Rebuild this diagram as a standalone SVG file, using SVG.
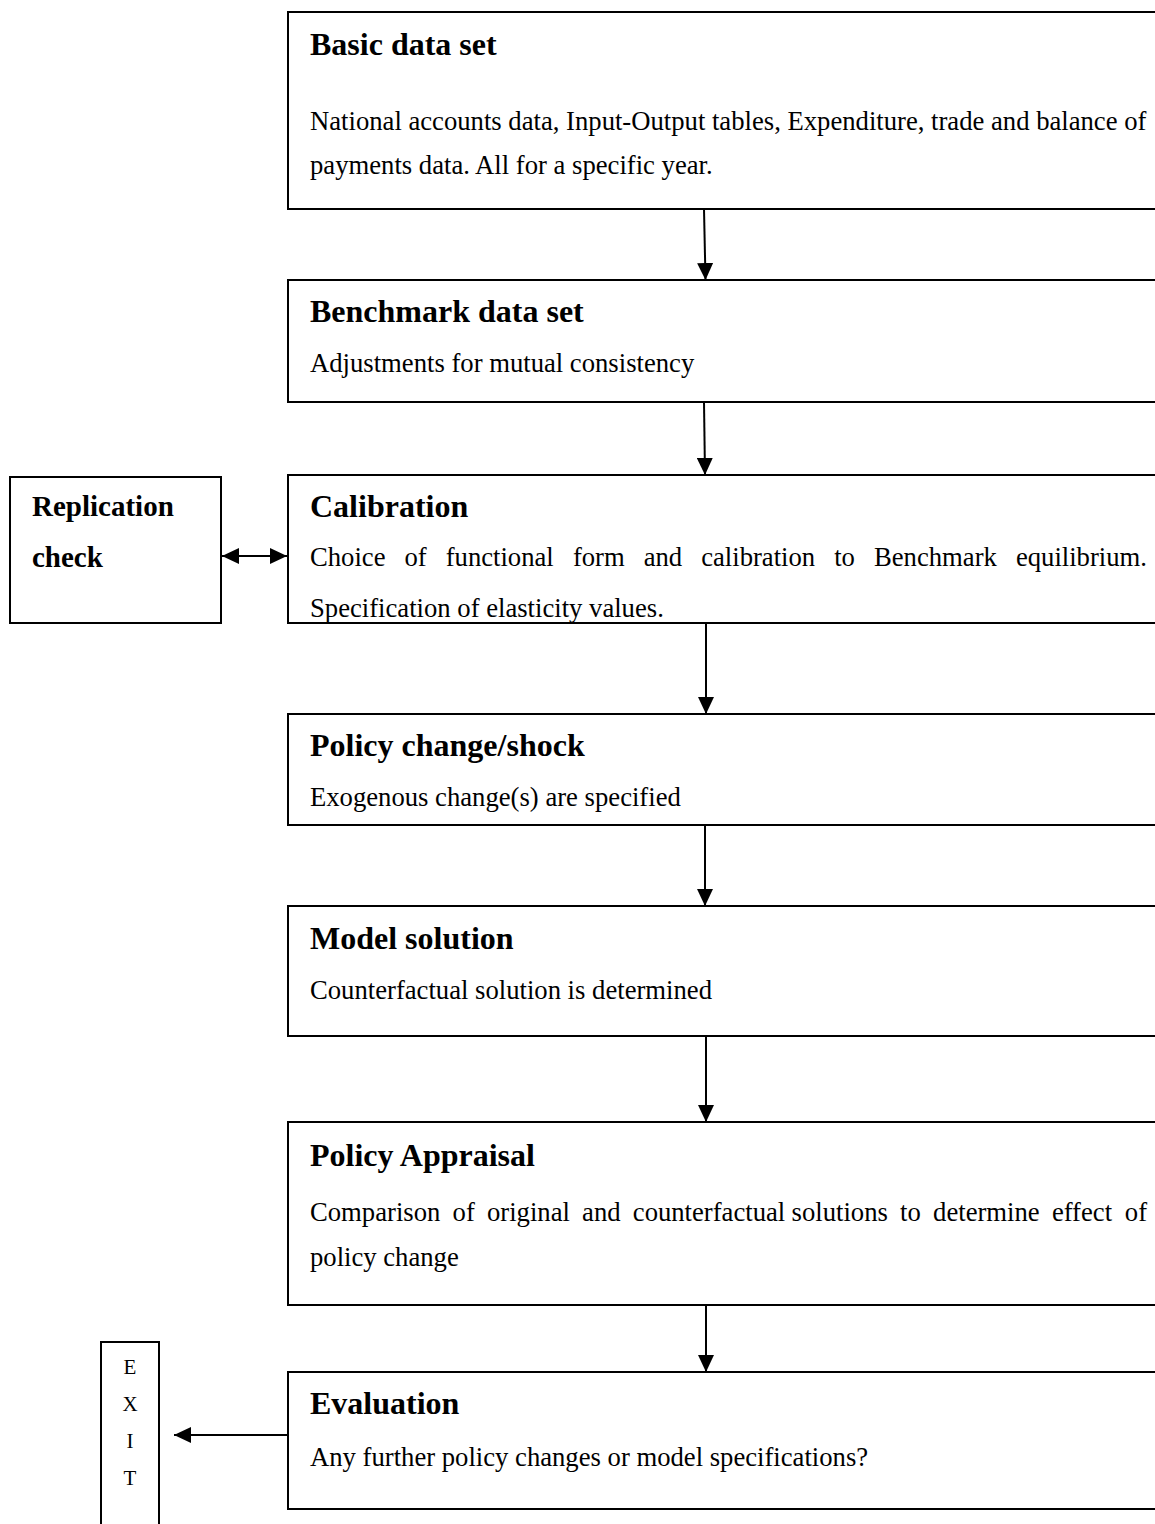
<svg xmlns="http://www.w3.org/2000/svg" width="1155" height="1524" viewBox="0 0 1155 1524">
  <style>
    .box { fill: #ffffff; stroke: #000000; stroke-width: 2; }
    .head { font-family: "Liberation Serif", "Times New Roman", serif; font-weight: bold; font-size: 32px; fill: #000000; }
    .body { font-family: "Liberation Serif", "Times New Roman", serif; font-size: 26.67px; fill: #000000; }
    .side { font-family: "Liberation Serif", "Times New Roman", serif; font-weight: bold; font-size: 29px; fill: #000000; }
    .exit { font-family: "Liberation Serif", "Times New Roman", serif; font-size: 21px; fill: #000000; }
    .link { stroke: #000000; stroke-width: 2; fill: none; }
  </style>
  <defs>
    <marker id="arrow" markerUnits="userSpaceOnUse" markerWidth="18" markerHeight="16" refX="17" refY="8" orient="auto-start-reverse">
      <path d="M0,0 L17,8 L0,16 Z" fill="#000000"/>
    </marker>
  </defs>
  <rect width="1155" height="1524" fill="#ffffff"/>

  <!-- process boxes (right side runs off the page) -->
  <g id="basic-data-set">
    <rect class="box" x="288" y="12" width="880" height="197"/>
    <text class="head" x="310" y="55">Basic data set</text>
    <text class="body" x="310" y="130">National accounts data, Input-Output tables, Expenditure, trade and balance of</text>
    <text class="body" x="310" y="174">payments data. All for a specific year.</text>
  </g>

  <g id="benchmark-data-set">
    <rect class="box" x="288" y="280" width="880" height="122"/>
    <text class="head" x="310" y="322">Benchmark data set</text>
    <text class="body" x="310" y="372">Adjustments for mutual consistency</text>
  </g>

  <g id="calibration">
    <rect class="box" x="288" y="475" width="880" height="148"/>
    <text class="head" x="310" y="517">Calibration</text>
    <text class="body" y="566"><tspan x="310">Choice</tspan><tspan x="404.5">of</tspan><tspan x="445.7">functional</tspan><tspan x="572.9">form</tspan><tspan x="643.7">and</tspan><tspan x="701.2">calibration</tspan><tspan x="834.2">to</tspan><tspan x="874">Benchmark</tspan><tspan x="1015.9">equilibrium.</tspan></text>
    <text class="body" x="310" y="617">Specification of elasticity values.</text>
  </g>

  <g id="replication-check">
    <rect class="box" x="10" y="477" width="211" height="146"/>
    <text class="side" x="32" y="516">Replication</text>
    <text class="side" x="32" y="567">check</text>
  </g>

  <g id="policy-change">
    <rect class="box" x="288" y="714" width="880" height="111"/>
    <text class="head" x="310" y="756">Policy change/shock</text>
    <text class="body" x="310" y="806">Exogenous change(s) are specified</text>
  </g>

  <g id="model-solution">
    <rect class="box" x="288" y="906" width="880" height="130"/>
    <text class="head" x="310" y="949">Model solution</text>
    <text class="body" x="310" y="999">Counterfactual solution is determined</text>
  </g>

  <g id="policy-appraisal">
    <rect class="box" x="288" y="1122" width="880" height="183"/>
    <text class="head" x="310" y="1166">Policy Appraisal</text>
    <text class="body" y="1221"><tspan x="310">Comparison</tspan><tspan x="452.6">of</tspan><tspan x="487">original</tspan><tspan x="582.1">and</tspan><tspan x="632.8">counterfactual</tspan><tspan x="791.6">solutions</tspan><tspan x="900.1">to</tspan><tspan x="933.1">determine</tspan><tspan x="1051.9">effect</tspan><tspan x="1124.8">of</tspan></text>
    <text class="body" x="310" y="1266">policy change</text>
  </g>

  <g id="evaluation">
    <rect class="box" x="288" y="1372" width="880" height="137"/>
    <text class="head" x="310" y="1414">Evaluation</text>
    <text class="body" x="310" y="1466">Any further policy changes or model specifications?</text>
  </g>

  <g id="exit">
    <rect class="box" x="101" y="1342" width="58" height="200"/>
    <text class="exit" x="130" y="1374" text-anchor="middle">E</text>
    <text class="exit" x="130" y="1411" text-anchor="middle">X</text>
    <text class="exit" x="130" y="1448" text-anchor="middle">I</text>
    <text class="exit" x="130" y="1485" text-anchor="middle">T</text>
  </g>

  <!-- connectors -->
  <g id="connectors">
    <line class="link" x1="704" y1="209" x2="705.5" y2="280" marker-end="url(#arrow)"/>
    <line class="link" x1="704" y1="402" x2="705" y2="475" marker-end="url(#arrow)"/>
    <line class="link" x1="706" y1="623" x2="706" y2="714" marker-end="url(#arrow)"/>
    <line class="link" x1="705" y1="825" x2="705" y2="906" marker-end="url(#arrow)"/>
    <line class="link" x1="706" y1="1036" x2="706" y2="1122" marker-end="url(#arrow)"/>
    <line class="link" x1="706" y1="1305" x2="706" y2="1372" marker-end="url(#arrow)"/>
    <line class="link" x1="222" y1="556" x2="287" y2="556" marker-start="url(#arrow)" marker-end="url(#arrow)"/>
    <line class="link" x1="288" y1="1435" x2="174" y2="1435" marker-end="url(#arrow)"/>
  </g>
</svg>
